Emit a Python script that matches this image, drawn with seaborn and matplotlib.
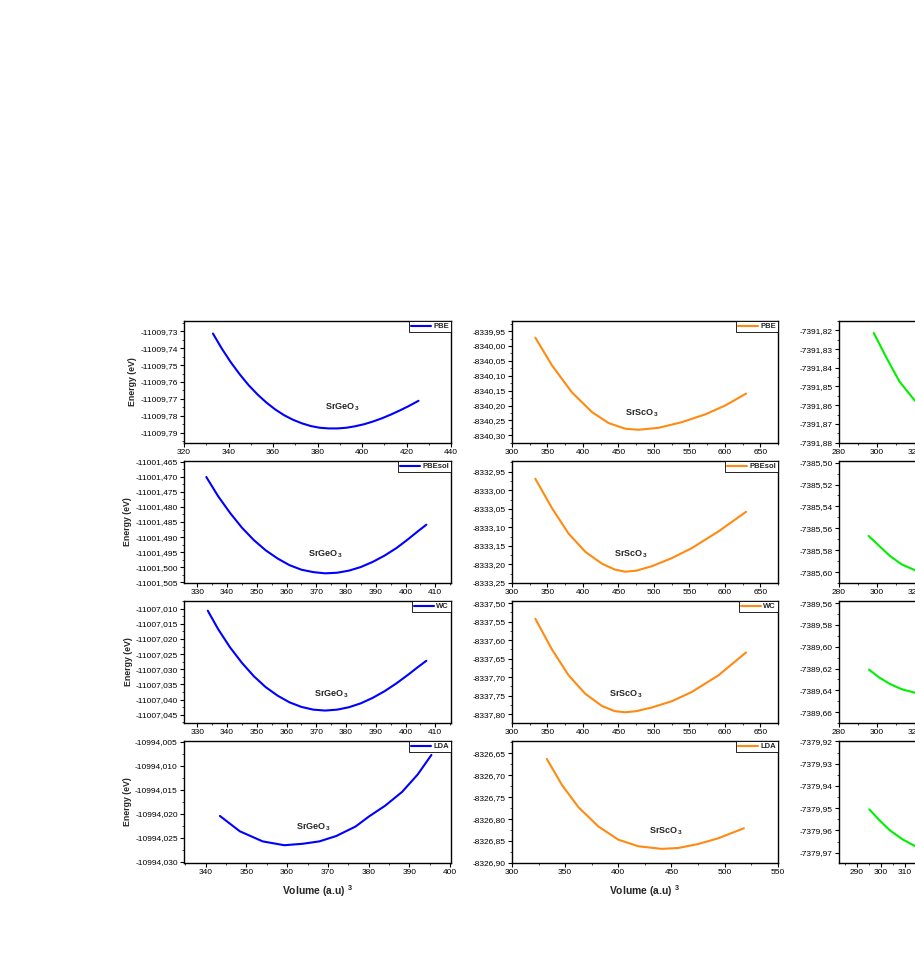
import numpy as np
import matplotlib
matplotlib.use('Agg')
import matplotlib.pyplot as plt
import seaborn as sns
from matplotlib.ticker import MultipleLocator, AutoMinorLocator, FuncFormatter

# Energy vs volume curves
# SrGeO3 (blue)
v_geo_pbe = [333.0, 337, 341, 345, 349, 353, 357, 361, 365, 369, 373, 377, 381, 385, 389, 393, 397, 401, 405, 409, 413, 417, 421, 425.4]
e_geo_pbe = [-11009.7314, -11009.7403, -11009.7483, -11009.7554, -11009.7618, -11009.7673, -11009.7721,
             -11009.7762, -11009.7796, -11009.7823, -11009.7844, -11009.7860, -11009.7870, -11009.7874,
             -11009.7874, -11009.7870, -11009.7861, -11009.7849, -11009.7833, -11009.7814, -11009.7792,
             -11009.7768, -11009.7742, -11009.7711]

v_geo_pbesol = [333.0, 337, 341, 345, 349, 353, 357, 361, 365, 369, 373, 377, 381, 385, 389, 393, 397, 401, 404, 407]
e_geo_pbesol = [-11001.4701, -11001.4765, -11001.4820, -11001.4869, -11001.4910, -11001.4944, -11001.4971,
                -11001.4993, -11001.5008, -11001.5016, -11001.5020, -11001.5018, -11001.5011, -11001.4999,
                -11001.4982, -11001.4961, -11001.4936, -11001.4906, -11001.4882, -11001.4859]

v_geo_wc = [333.5, 337, 341, 345, 349, 353, 357, 361, 365, 369, 373, 377, 381, 385, 389, 393, 397, 401, 404, 407]
e_geo_wc = [-11007.0107, -11007.0168, -11007.0228, -11007.0279, -11007.0323, -11007.0359, -11007.0387,
            -11007.0409, -11007.0424, -11007.0433, -11007.0436, -11007.0433, -11007.0425, -11007.0412,
            -11007.0394, -11007.0372, -11007.0346, -11007.0317, -11007.0294, -11007.0272]

v_geo_lda = [343.5, 348.4, 354.0, 359.3, 363.8, 367.9, 372.0, 376.8, 380.1, 384.0, 388.2, 392.0, 395.4]
e_geo_lda = [-10994.0204, -10994.0236, -10994.0257, -10994.0265, -10994.0262, -10994.0257, -10994.0246,
             -10994.0226, -10994.0205, -10994.0183, -10994.0154, -10994.0118, -10994.0077]

# SrScO3 (orange)
v_sco_pbe = [332.9, 356.3, 384.5, 412.7, 436.2, 459.6, 478.4, 506.6, 539.4, 572.3, 600.5, 630.0]
e_sco_pbe = [-8339.972, -8340.065, -8340.156, -8340.222, -8340.259, -8340.278, -8340.2815, -8340.275,
             -8340.256, -8340.230, -8340.200, -8340.160]

v_sco_pbesol = [332.9, 356.3, 379.8, 403.3, 426.8, 445.0, 459.6, 475.0, 497.2, 525.4, 553.5, 591.1, 630.0]
e_sco_pbesol = [-8332.969, -8333.048, -8333.117, -8333.166, -8333.198, -8333.214, -8333.2197, -8333.217,
                -8333.2049, -8333.183, -8333.156, -8333.111, -8333.058]

v_sco_wc = [332.9, 356.3, 379.8, 403.3, 426.8, 445.0, 459.6, 475.0, 497.2, 525.4, 553.5, 591.1, 630.0]
e_sco_wc = [-8337.542, -8337.625, -8337.695, -8337.745, -8337.778, -8337.792, -8337.795, -8337.792,
            -8337.782, -8337.765, -8337.740, -8337.695, -8337.633]

v_sco_lda = [332.8, 346.9, 362.5, 381.3, 400.0, 418.8, 440.6, 456.3, 475.0, 493.8, 518.1]
e_sco_lda = [-8326.663, -8326.722, -8326.773, -8326.817, -8326.847, -8326.862, -8326.868, -8326.866,
             -8326.857, -8326.844, -8326.821]

# third compound (green), mostly cut off at the right edge
v_c3_pbe = [298.3, 304.9, 311.8, 319.7, 328.0]
e_c3_pbe = [-7391.8214, -7391.8345, -7391.8473, -7391.8573, -7391.8655]

v_c3_pbesol = [295.6, 300.5, 306.6, 313.0, 319.6, 327.0]
e_c3_pbesol = [-7385.567, -7385.575, -7385.585, -7385.593, -7385.598, -7385.602]

v_c3_wc = [295.8, 301.0, 306.6, 313.0, 319.6, 327.0]
e_c3_wc = [-7389.621, -7389.628, -7389.634, -7389.639, -7389.642, -7389.645]

v_c3_lda = [295.2, 299.5, 303.8, 309.0, 314.1, 320.0]
e_c3_lda = [-7379.9505, -7379.9555, -7379.9600, -7379.9640, -7379.9670, -7379.9690]

functionals = ['PBE', 'PBEsol', 'WC', 'LDA']
compounds = ['SrGeO$_{\\,3}$', 'SrScO$_{\\,3}$', '']
colors = ['#0000FF', '#FF8A12', '#00F000']

curves = [
    [(v_geo_pbe, e_geo_pbe), (v_sco_pbe, e_sco_pbe), (v_c3_pbe, e_c3_pbe)],
    [(v_geo_pbesol, e_geo_pbesol), (v_sco_pbesol, e_sco_pbesol), (v_c3_pbesol, e_c3_pbesol)],
    [(v_geo_wc, e_geo_wc), (v_sco_wc, e_sco_wc), (v_c3_wc, e_c3_wc)],
    [(v_geo_lda, e_geo_lda), (v_sco_lda, e_sco_lda), (v_c3_lda, e_c3_lda)],
]

# axis settings per panel: xlim, xstep, ylim, ystep, decimals
xlims = [
    [(320, 440, 20), (300, 675, 50), (280, 420, 20)],
    [(325.5, 415.3, 10), (300, 675, 50), (280, 420, 20)],
    [(325.5, 415.3, 10), (300, 675, 50), (280, 420, 20)],
    [(334.7, 400.2, 10), (300, 550.2, 50), (282.7, 392.6, 10)],
]
ylims = [
    [(-11009.796, -11009.724, 0.01, 2), (-8340.326, -8339.916, 0.05, 2), (-7391.8802, -7391.815, 0.01, 2)],
    [(-11001.5052, -11001.4648, 0.005, 3), (-8333.2502, -8332.921, 0.05, 2), (-7385.610, -7385.4985, 0.02, 2)],
    [(-11007.0477, -11007.0075, 0.005, 3), (-8337.824, -8337.494, 0.05, 2), (-7389.670, -7389.558, 0.02, 2)],
    [(-10994.0302, -10994.0048, 0.005, 3), (-8326.9002, -8326.622, 0.05, 2), (-7379.9746, -7379.9198, 0.01, 2)],
]
label_pos = [
    [(0.592, 0.295), (0.487, 0.243), (0.5, 0.25)],
    [(0.528, 0.235), (0.447, 0.238), (0.5, 0.25)],
    [(0.554, 0.235), (0.427, 0.238), (0.5, 0.25)],
    [(0.483, 0.290), (0.579, 0.257), (0.5, 0.25)],
]

sns.set_style('ticks')
plt.rcParams['font.family'] = ['Liberation Sans', 'DejaVu Sans']
plt.rcParams['mathtext.fontset'] = 'custom'
plt.rcParams['mathtext.rm'] = 'Liberation Sans:bold'
plt.rcParams['mathtext.it'] = 'Liberation Sans:bold'
plt.rcParams['mathtext.bf'] = 'Liberation Sans:bold'

fig = plt.figure(figsize=(9.15, 9.69), dpi=100)

col_left = [184 / 915, 512 / 915, 839 / 915]
col_w = [267 / 915, 266 / 915, 266 / 915]
row_top = [321, 461, 601, 741]
row_h = 122

for r in range(4):
    for c in range(3):
        bottom = 1 - (row_top[r] + row_h) / 969
        ax = fig.add_axes([col_left[c], bottom, col_w[c], row_h / 969])
        vx, ey = curves[r][c]
        sns.lineplot(x=vx, y=ey, ax=ax, color=colors[c], linewidth=1.5,
                     label=functionals[r], estimator=None)

        x0, x1, xs = xlims[r][c]
        y0, y1, ys, dec = ylims[r][c]
        ax.set_xlim(x0, x1)
        ax.set_ylim(y0, y1)
        ax.xaxis.set_major_locator(MultipleLocator(xs))
        ax.xaxis.set_minor_locator(AutoMinorLocator(2))
        ax.yaxis.set_major_locator(MultipleLocator(ys))
        ax.yaxis.set_minor_locator(AutoMinorLocator(2))
        ax.xaxis.set_major_formatter(FuncFormatter(lambda v, p: f'{v:.0f}'))
        ax.yaxis.set_major_formatter(
            FuncFormatter(lambda v, p, d=dec: f'{v:.{d}f}'.replace('.', ',')))
        ax.tick_params(which='major', direction='out', length=3, width=0.8,
                       labelsize=6, pad=1.5, colors='black')
        ax.tick_params(which='minor', direction='out', length=1.6, width=0.6)
        for sp in ax.spines.values():
            sp.set_linewidth(1.0)
            sp.set_color('black')

        leg = ax.legend(loc='upper right', borderaxespad=0,
                        prop={'weight': 'bold', 'size': 5.5}, fancybox=False,
                        edgecolor='black', framealpha=1, handlelength=2.6,
                        borderpad=0.25, handletextpad=0.3)
        leg.get_frame().set_linewidth(0.6)

        if compounds[c]:
            tx, ty = label_pos[r][c]
            ax.text(tx, ty, compounds[c], transform=ax.transAxes, ha='center',
                    va='center', fontsize=6.5, fontweight='bold')

        ax.set_xlabel('')
        ax.set_ylabel('')
        if c == 0:
            ax.set_ylabel('Energy (eV)', fontsize=6.3, fontweight='bold', labelpad=2)
        if r == 3 and c < 2:
            ax.set_xlabel('Volume (a.u) $^{3}$', fontsize=7.5, fontweight='bold', labelpad=5)

fig.savefig('out.png', dpi=100)
